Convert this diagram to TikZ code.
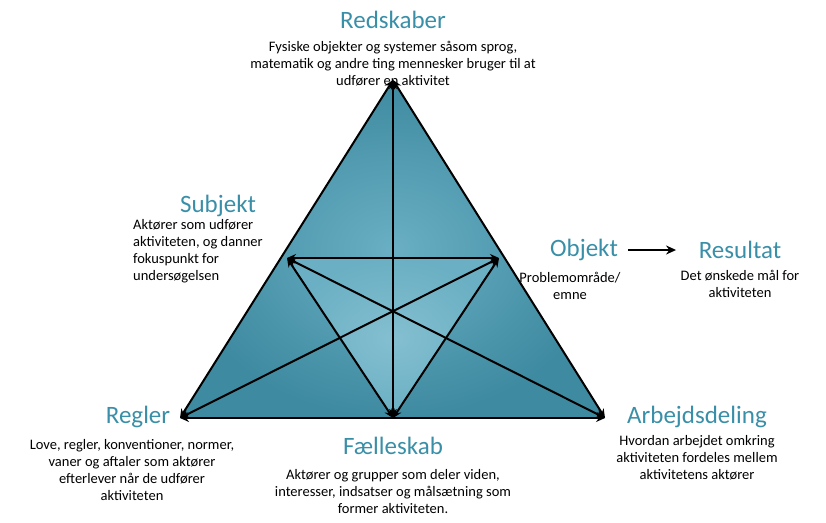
\documentclass[tikz,border=0pt]{standalone}
\usepackage{fontspec}
\setmainfont{Carlito}
\usetikzlibrary{arrows.meta}
\definecolor{teal1}{HTML}{3E8AA0}
\definecolor{teal2}{HTML}{8AC3D3}
\definecolor{teal3}{HTML}{6AAFC3}
\definecolor{ttl}{HTML}{3A8FA8}
\tikzset{
 ttl/.style={text=ttl,font=\fontsize{25}{28}\selectfont,inner sep=0pt},
 desc/.style={font=\fontsize{14.5}{17}\selectfont,align=center,inner sep=0pt},
 arr/.style={line width=2pt,{Stealth[length=9pt,width=8pt]}-{Stealth[length=9pt,width=8pt]}},
}
\begin{document}
\begin{tikzpicture}[x=1pt,y=-1pt]
\useasboundingbox (0,0) rectangle (826,522);
\coordinate (A) at (393,80);
\coordinate (L) at (180,418);
\coordinate (R) at (605,418);
\coordinate (ML) at (287,258);
\coordinate (MR) at (499,258);
\coordinate (MB) at (393,418);
\shade[inner color=teal3,outer color=teal1] (A)--(L)--(R)--cycle;
\fill[teal2] (ML)--(MR)--(MB)--cycle;
\shade[inner color=teal2!80!teal3,outer color=teal3] (ML)--(MR)--(MB)--cycle;
\draw[arr] (A)--(L); \draw[arr] (A)--(R); \draw[arr] (L)--(R);
\draw[arr] (ML)--(MR); \draw[arr] (ML)--(MB); \draw[arr] (MR)--(MB);
\draw[arr] (A)--(MB); \draw[arr] (ML)--(R); \draw[arr] (MR)--(L);
\node[ttl] (t1) at (393,20) {Redskaber};
\node[desc] (d1) at (393,64) {Fysiske objekter og systemer såsom sprog,\\matematik og andre ting mennesker bruger til at\\udfører en aktivitet};
\node[ttl] (t2) at (218,206) {Subjekt};
\node[desc,align=left,anchor=north west] (d2) at (133,219) {Aktører som udfører\\aktiviteten, og danner\\fokuspunkt for\\undersøgelsen};
\node[ttl] (t3) at (584,250) {Objekt};
\node[desc] (d3) at (570,286) {Problemområde/\\emne};
\node[ttl] (t4) at (740,250) {Resultat};
\node[desc] (d4) at (740,284) {Det ønskede mål for\\aktiviteten};
\draw[line width=2pt,-{Stealth[length=10pt,width=9pt]}] (t3.east)++(10,0) -- ++(48,0) coordinate (e) ;
\node[ttl] (t5) at (138,417) {Regler};
\node[desc] (d5) at (132,470) {Love, regler, konventioner, normer,\\vaner og aftaler som aktører\\efterlever når de udfører\\aktiviteten};
\node[ttl] (t6) at (393,446) {Fælleskab};
\node[desc] (d6) at (393,492) {Aktører og grupper som deler viden,\\interesser, indsatser og målsætning som\\former aktiviteten.};
\node[ttl] (t7) at (697,417) {Arbejdsdeling};
\node[desc] (d7) at (697,458) {Hvordan arbejdet omkring\\aktiviteten fordeles mellem\\aktivitetens aktører};
\end{tikzpicture}
\end{document}
